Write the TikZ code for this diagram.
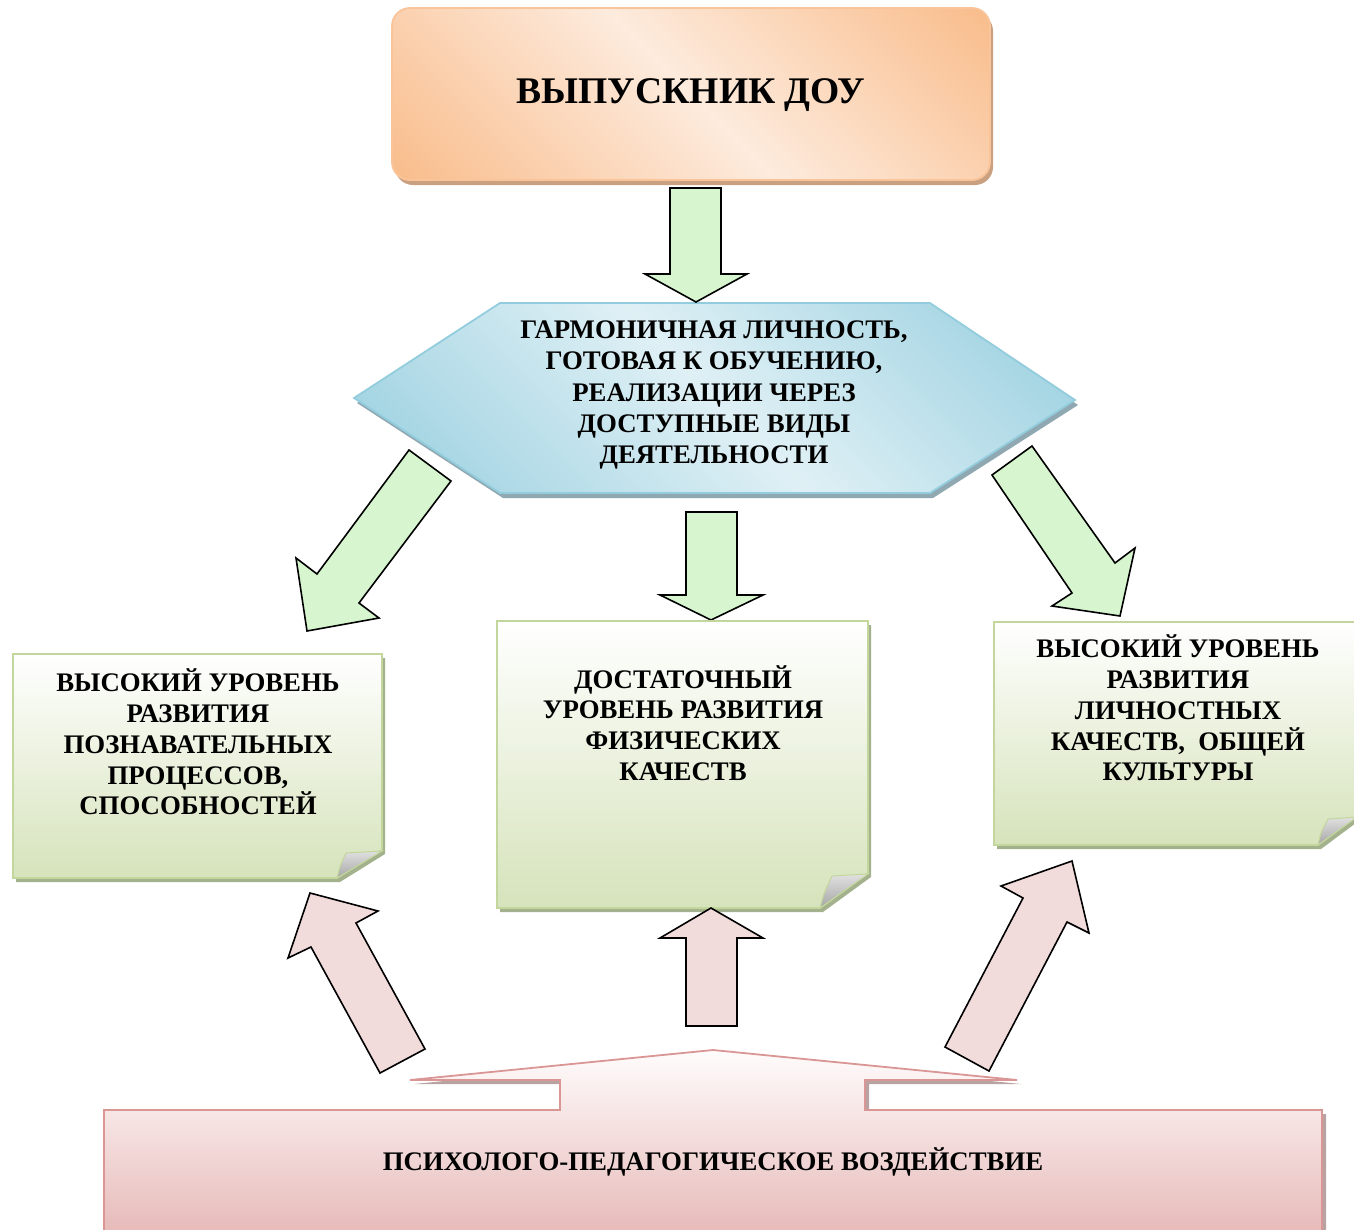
\documentclass[tikz,border=0pt]{standalone}
\usepackage{fontspec}
\setmainfont{Liberation Serif}
\definecolor{grnA}{HTML}{D7F6D0}
\definecolor{pinkA}{HTML}{F2DCDB}
\definecolor{noteBot}{HTML}{D6E3BB}
\definecolor{noteBorder}{HTML}{C3D69B}
\definecolor{noteShadow}{HTML}{A3B28C}
\definecolor{orDark}{HTML}{F9BE8E}
\definecolor{orLight}{HTML}{FDEBDD}
\definecolor{orBorder}{HTML}{F9C49A}
\definecolor{orShadow}{HTML}{C9A080}
\definecolor{hexDark}{HTML}{98CFDF}
\definecolor{hexLight}{HTML}{DFF0F5}
\definecolor{hexBorder}{HTML}{93CDDD}
\definecolor{hexShadow}{HTML}{8FA8B2}
\definecolor{bTop}{HTML}{FFFCFC}
\definecolor{bBot}{HTML}{E6B9B8}
\definecolor{bBorder}{HTML}{D99694}
\definecolor{bShadow}{HTML}{B8A2A2}
\pgfdeclareverticalshading{orsh}{100bp}{color(0bp)=(orDark); color(16bp)=(orDark); color(50bp)=(orLight); color(84bp)=(orDark); color(100bp)=(orDark)}
\pgfdeclareverticalshading{hexsh}{100bp}{color(0bp)=(hexDark); color(16bp)=(hexDark); color(50bp)=(hexLight); color(84bp)=(hexDark); color(100bp)=(hexDark)}
\begin{document}
\begin{tikzpicture}[x=1pt,y=-1pt,
  txt/.style={font=\bfseries\fontsize{26.8}{30.8}\selectfont, align=center, text=black, inner sep=0pt},
  garrow/.style={draw=black, line width=1.6pt, fill=grnA, line join=miter},
  parrow/.style={draw=black, line width=1.6pt, fill=pinkA, line join=miter},
  notebox/.style={draw=noteBorder, line width=1.8pt, top color=white, bottom color=noteBot},
  noteshadow/.style={fill=noteShadow},
  fold/.style={draw=noteBorder, line width=1pt, top color=black!12, bottom color=black!35}
]
\useasboundingbox (0,0) rectangle (1354,1229);

% top box
\fill[orShadow, rounded corners=18pt] (395,13) rectangle (993,185);
\draw[orBorder, line width=1.8pt, rounded corners=18pt, shading=orsh, shading angle=135]
      (392,8) rectangle (990,180);
\node[txt, font=\bfseries\fontsize{37.6}{40}\selectfont] (title) at (691,95) {ВЫПУСКНИК ДОУ};

% hexagon
\fill[hexShadow] (357,403) -- (503,308) -- (933,308) -- (1078,405) -- (933,498) -- (503,498) -- cycle;
\draw[hexBorder, line width=1.8pt, shading=hexsh, shading angle=135]
  (354,398) -- (500,303) -- (930,303) -- (1075,400) -- (930,493) -- (500,493) -- cycle;
\node[txt, font=\bfseries\fontsize{26.8}{31.1}\selectfont] (hex) at (714,395) {ГАРМОНИЧНАЯ ЛИЧНОСТЬ,\\ГОТОВАЯ К ОБУЧЕНИЮ,\\РЕАЛИЗАЦИИ ЧЕРЕЗ\\ДОСТУПНЫЕ ВИДЫ\\ДЕЯТЕЛЬНОСТИ};

% green arrows
\draw[garrow] (670,188) -- (721,188) -- (721,274) -- (747,274) -- (696,302) -- (645,274) -- (670,274) -- cycle;
\draw[garrow] (686,512) -- (737,512) -- (737,595) -- (763,595) -- (711,620) -- (660,595) -- (686,595) -- cycle;
\draw[garrow] (409,450) -- (451,481) -- (359,603) -- (379,618) -- (307,631) -- (296,558) -- (317,574) -- cycle;
\draw[garrow] (1032,446) -- (1115,563) -- (1135,548) -- (1120,616) -- (1052,606) -- (1072,593) -- (992,475) -- cycle;

% note boxes
\fill[noteshadow] (16,658) -- (385,658) -- (385,854) -- (340,882) -- (16,882) -- cycle;
\draw[notebox] (13,654) -- (382,654) -- (382,850) -- (337,878) -- (13,878) -- cycle;
\draw[fold] (337,878) .. controls (340,866) .. (346,853) -- (382,851) -- cycle;
\node[txt] (left) at (198,742) {ВЫСОКИЙ УРОВЕНЬ\\РАЗВИТИЯ\\ПОЗНАВАТЕЛЬНЫХ\\ПРОЦЕССОВ,\\СПОСОБНОСТЕЙ};

\fill[noteshadow] (500,625) -- (871,625) -- (871,877) -- (823,912) -- (500,912) -- cycle;
\draw[notebox] (497,621) -- (868,621) -- (868,873) -- (820,908) -- (497,908) -- cycle;
\draw[fold] (820,908) .. controls (824,893) .. (832,876) -- (868,874) -- cycle;
\node[txt] (mid) at (683,723) {ДОСТАТОЧНЫЙ\\УРОВЕНЬ РАЗВИТИЯ\\ФИЗИЧЕСКИХ\\КАЧЕСТВ};

\fill[noteshadow] (997,626) -- (1360,626) -- (1360,820) -- (1321,849) -- (997,849) -- cycle;
\draw[notebox] (994,622) -- (1357,622) -- (1357,816) -- (1318,845) -- (994,845) -- cycle;
\draw[fold] (1318,845) .. controls (1321,832) .. (1328,819) -- (1357,817) -- cycle;
\node[txt] (right) at (1178,708) {ВЫСОКИЙ УРОВЕНЬ\\РАЗВИТИЯ\\ЛИЧНОСТНЫХ\\КАЧЕСТВ,\ \ ОБЩЕЙ\\КУЛЬТУРЫ};

% pink arrows
\draw[parrow] (686,1026) -- (737,1026) -- (737,938) -- (763,938) -- (711,908) -- (660,938) -- (686,938) -- cycle;
\draw[parrow] (380,1073) -- (311,947) -- (288,958) -- (310,893) -- (378,911) -- (356,923) -- (425,1049) -- cycle;
\draw[parrow] (945,1047) -- (1023,898) -- (1001,886) -- (1072,861) -- (1089,933) -- (1067,922) -- (989,1071) -- cycle;

% bottom shape
\fill[bShadow] (108,1114) -- (564,1114) -- (564,1084) -- (414,1084) -- (717,1054) -- (1021,1084) -- (869,1084) -- (869,1114) -- (1326,1114) -- (1326,1240) -- (108,1240) -- cycle;
\draw[bBorder, line width=1.8pt, top color=bTop, bottom color=bBot]
  (104,1110) -- (560,1110) -- (560,1080) -- (410,1080) -- (713,1050) -- (1017,1080) -- (865,1080) -- (865,1110) -- (1322,1110) -- (1322,1236) -- (104,1236) -- cycle;
\node[txt] (bottom) at (713,1162) {ПСИХОЛОГО-ПЕДАГОГИЧЕСКОЕ ВОЗДЕЙСТВИЕ};
\end{tikzpicture}
\end{document}
